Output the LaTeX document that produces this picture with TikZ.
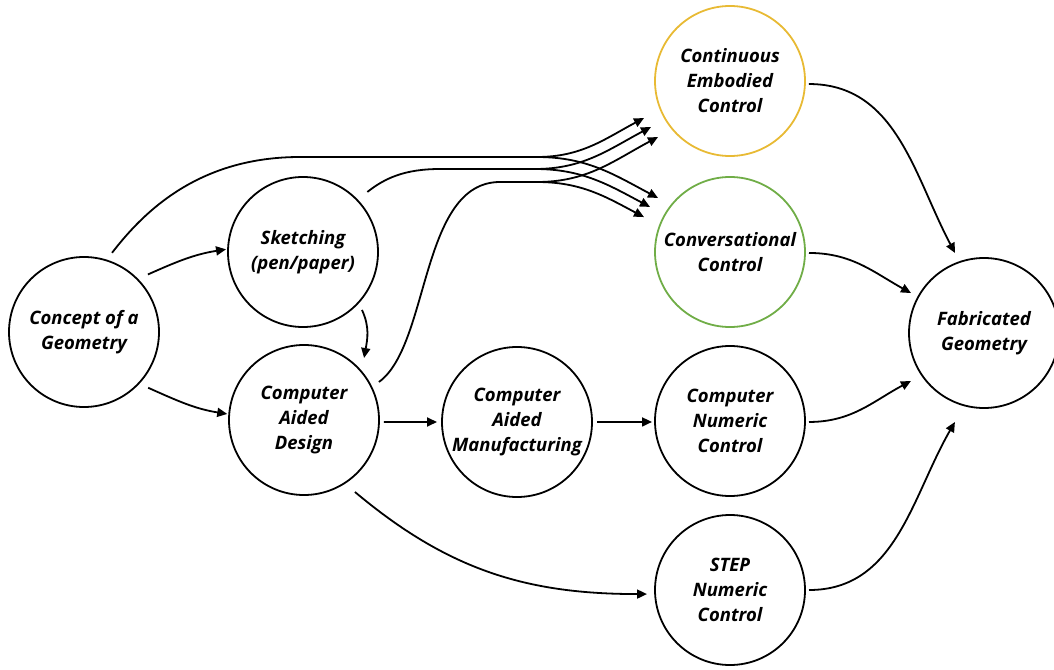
\documentclass[tikz,border=0pt]{standalone}
\usepackage{fontspec}
\newfontfamily\lblfont{Open Sans}
\usetikzlibrary{arrows.meta,calc}
\definecolor{gold}{RGB}{232,186,52}
\definecolor{ogreen}{RGB}{112,173,71}
\begin{document}
\begin{tikzpicture}[x=1pt,y=1pt,
  proc/.style={circle,draw=black,line width=1.8pt,minimum size=150pt,inner sep=0pt,
    align=center,font=\lblfont\fontsize{18.5}{25}\selectfont\bfseries\itshape},
  conn/.style={line width=1.8pt,-{Triangle[length=10pt,width=9pt]}},
  plain/.style={line width=1.8pt}]
\useasboundingbox (0,0) rectangle (1054,-669);
\node[proc] (concept) at (84,-332) {Concept of a\\Geometry};
\node[proc] (sketch) at (303,-252) {Sketching\\(pen/paper)};
\node[proc] (cad) at (304,-420) {Computer\\Aided\\Design};
\node[proc] (cam) at (517,-422) {Computer\\Aided\\Manufacturing};
\node[proc,draw=gold] (cec) at (730,-81) {Continuous\\Embodied\\Control};
\node[proc,draw=ogreen] (conv) at (730,-252) {Conversational\\Control};
\node[proc] (cnc) at (730,-421) {Computer\\Numeric\\Control};
\node[proc] (step) at (730,-590) {STEP\\Numeric\\Control};
\node[proc] (fab) at (984,-333) {Fabricated\\Geometry};

% fan-out split points
\coordinate (s1) at (537,-157);
\coordinate (s2) at (535,-169);
\coordinate (s3) at (537,-182);
% fan tips
\coordinate (a1) at ($(cec)+(203.3:93.6)$);
\coordinate (a2) at ($(cec)+(210.2:91.4)$);
\coordinate (a3) at ($(cec)+(217.9:91.2)$);
\coordinate (b1) at ($(conv)+(143.1:90)$);
\coordinate (b2) at ($(conv)+(150.6:91.8)$);
\coordinate (b3) at ($(conv)+(157.9:92.8)$);

% simple connectors
\draw[conn] ($(concept)+(42:86)$) to[out=24,in=189] ($(sketch)+(178:77)$);
\draw[conn] ($(concept)+(-41:85)$) to[out=-24,in=171] ($(cad)+(175.5:77)$);
\draw[conn] ($(sketch)+(-44.5:82.7)$) to[out=-65,in=80] ($(cad)+(45.9:86.3)$);
\draw[conn] ($(cad)+(-1.4:80)$) -- ($(cam)+(180:80)$);
\draw[conn] ($(cam)+(0:80)$) -- ($(cnc)+(180.7:78)$);
\draw[conn] ($(cad)+(-54.7:88.2)$) to[out=-40,in=180] ($(step)+(182.8:83.1)$);
\draw[conn] ($(cec)+(-2.2:79)$) to[out=0,in=118] ($(fab)+(109.9:85.1)$);
\draw[conn] ($(conv)+(-0.7:79)$) to[out=0,in=151] ($(fab)+(151.3:83.2)$);
\draw[conn] ($(cnc)+(-0.7:79)$) to[out=0,in=208] ($(fab)+(213.3:87.4)$);
\draw[conn] ($(step)+(0:79)$) to[out=0,in=240] ($(fab)+(251.9:93.6)$);

% trunks toward the fan
\draw[plain] ($(concept)+(70.5:84)$) .. controls (145,-210) and (200,-157) .. (300,-157) -- (s1);
\draw[plain] ($(sketch)+(43:88)$) .. controls (385,-178) and (405,-169) .. (440,-169) -- (s2);
\draw[plain] ($(cad)+(26.9:84)$) .. controls (430,-345) and (420,-182) .. (500,-182) -- (s3);
% fan branches
\draw[conn] (s1) to[out=0,in=208] (a1);
\draw[conn] (s2) to[out=0,in=208] (a2);
\draw[conn] (s3) to[out=0,in=208] (a3);
\draw[conn] (s1) to[out=0,in=152] (b1);
\draw[conn] (s2) to[out=0,in=152] (b2);
\draw[conn] (s3) to[out=0,in=152] (b3);
\end{tikzpicture}
\end{document}
